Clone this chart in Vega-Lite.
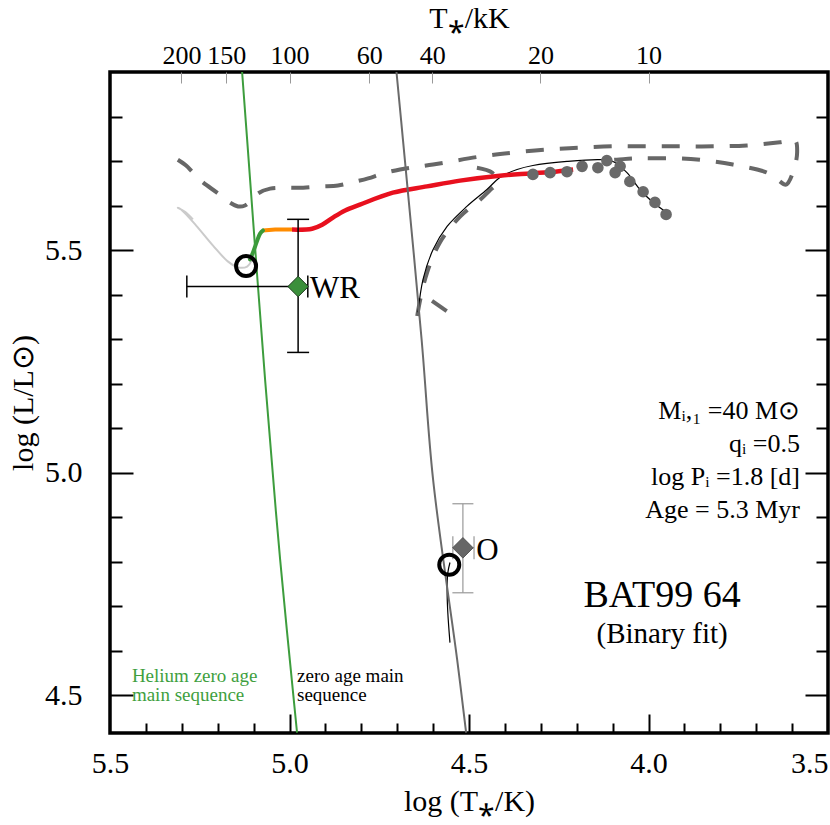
{
  "$schema": "https://vega.github.io/schema/vega-lite/v6.json",
  "width": 718,
  "height": 661,
  "autosize": {"type": "none"},
  "padding": {"left": 110, "top": 72, "right": 2, "bottom": 92},
  "background": "white",
  "config": {
    "font": "Liberation Serif",
    "view": {"stroke": "black", "strokeWidth": 3.5},
    "text": {"font": "Liberation Serif"},
    "axis": {"grid": false, "domain": false, "labelFont": "Liberation Serif", "titleFont": "Liberation Serif", "labelColor": "black", "titleColor": "black", "tickColor": "black", "titleFontWeight": "normal", "labelFontSize": 30, "titleFontSize": 30, "tickWidth": 2, "labelFlush": false, "labelOverlap": false}
  },
  "datasets": {
    "dashed": [
      {"seg": 1, "ord": 1, "T": 5.311, "L": 5.703}, {"seg": 1, "ord": 2, "T": 5.288, "L": 5.690}, {"seg": 1, "ord": 3, "T": 5.269, "L": 5.674}, {"seg": 1, "ord": 4, "T": 5.241, "L": 5.652}, {"seg": 1, "ord": 5, "T": 5.202, "L": 5.629}, {"seg": 1, "ord": 6, "T": 5.171, "L": 5.609}, {"seg": 1, "ord": 7, "T": 5.143, "L": 5.598}, {"seg": 1, "ord": 8, "T": 5.124, "L": 5.600}, {"seg": 1, "ord": 9, "T": 5.104, "L": 5.613}, {"seg": 1, "ord": 10, "T": 5.088, "L": 5.627}, {"seg": 1, "ord": 11, "T": 5.054, "L": 5.638}, {"seg": 1, "ord": 12, "T": 5.013, "L": 5.640}, {"seg": 1, "ord": 13, "T": 4.962, "L": 5.640}, {"seg": 1, "ord": 14, "T": 4.915, "L": 5.643}, {"seg": 1, "ord": 15, "T": 4.865, "L": 5.645}, {"seg": 1, "ord": 16, "T": 4.826, "L": 5.652}, {"seg": 1, "ord": 17, "T": 4.781, "L": 5.661}, {"seg": 1, "ord": 18, "T": 4.740, "L": 5.672}, {"seg": 1, "ord": 19, "T": 4.692, "L": 5.681}, {"seg": 1, "ord": 20, "T": 4.600, "L": 5.692}, {"seg": 1, "ord": 21, "T": 4.469, "L": 5.710}, {"seg": 1, "ord": 22, "T": 4.377, "L": 5.719}, {"seg": 1, "ord": 23, "T": 4.283, "L": 5.726}, {"seg": 1, "ord": 24, "T": 4.191, "L": 5.730}, {"seg": 1, "ord": 25, "T": 4.099, "L": 5.733}, {"seg": 1, "ord": 26, "T": 4.004, "L": 5.733}, {"seg": 1, "ord": 27, "T": 3.912, "L": 5.733}, {"seg": 1, "ord": 28, "T": 3.820, "L": 5.733}, {"seg": 1, "ord": 29, "T": 3.726, "L": 5.735}, {"seg": 1, "ord": 30, "T": 3.634, "L": 5.742}, {"seg": 1, "ord": 31, "T": 3.592, "L": 5.746}, {"seg": 1, "ord": 32, "T": 3.586, "L": 5.719}, {"seg": 1, "ord": 33, "T": 3.597, "L": 5.676}, {"seg": 1, "ord": 34, "T": 3.617, "L": 5.647}, {"seg": 1, "ord": 35, "T": 3.640, "L": 5.658}, {"seg": 1, "ord": 36, "T": 3.670, "L": 5.674}, {"seg": 1, "ord": 37, "T": 3.765, "L": 5.692}, {"seg": 1, "ord": 38, "T": 3.837, "L": 5.701}, {"seg": 1, "ord": 39, "T": 3.912, "L": 5.706}, {"seg": 1, "ord": 40, "T": 3.987, "L": 5.706}, {"seg": 1, "ord": 41, "T": 4.043, "L": 5.706}, {"seg": 1, "ord": 42, "T": 4.088, "L": 5.703}, {"seg": 1, "ord": 43, "T": 4.130, "L": 5.701},
      {"seg": 2, "ord": 1, "T": 4.478, "L": 5.685}, {"seg": 2, "ord": 2, "T": 4.436, "L": 5.674}, {"seg": 2, "ord": 3, "T": 4.422, "L": 5.652}, {"seg": 2, "ord": 4, "T": 4.442, "L": 5.634}, {"seg": 2, "ord": 5, "T": 4.469, "L": 5.613}, {"seg": 2, "ord": 6, "T": 4.525, "L": 5.575}, {"seg": 2, "ord": 7, "T": 4.581, "L": 5.517}, {"seg": 2, "ord": 8, "T": 4.617, "L": 5.449}, {"seg": 2, "ord": 9, "T": 4.636, "L": 5.388}, {"seg": 2, "ord": 10, "T": 4.645, "L": 5.348},
      {"seg": 3, "ord": 1, "T": 4.603, "L": 5.386}, {"seg": 3, "ord": 2, "T": 4.561, "L": 5.362}
    ],
    "black": [
      {"seg": 1, "ord": 1, "T": 4.642, "L": 5.360}, {"seg": 1, "ord": 2, "T": 4.628, "L": 5.434}, {"seg": 1, "ord": 3, "T": 4.600, "L": 5.501}, {"seg": 1, "ord": 4, "T": 4.561, "L": 5.553}, {"seg": 1, "ord": 5, "T": 4.506, "L": 5.598}, {"seg": 1, "ord": 6, "T": 4.450, "L": 5.636}, {"seg": 1, "ord": 7, "T": 4.414, "L": 5.663}, {"seg": 1, "ord": 8, "T": 4.366, "L": 5.681}, {"seg": 1, "ord": 9, "T": 4.322, "L": 5.690}, {"seg": 1, "ord": 10, "T": 4.227, "L": 5.699}, {"seg": 1, "ord": 11, "T": 4.135, "L": 5.703}, {"seg": 1, "ord": 12, "T": 4.099, "L": 5.699}, {"seg": 1, "ord": 13, "T": 4.060, "L": 5.674}, {"seg": 1, "ord": 14, "T": 4.024, "L": 5.636}, {"seg": 1, "ord": 15, "T": 3.987, "L": 5.607}, {"seg": 1, "ord": 16, "T": 3.948, "L": 5.584},
      {"seg": 2, "ord": 1, "T": 4.553, "L": 4.618}, {"seg": 2, "ord": 2, "T": 4.559, "L": 4.685}, {"seg": 2, "ord": 3, "T": 4.561, "L": 4.737}, {"seg": 2, "ord": 4, "T": 4.559, "L": 4.775}, {"seg": 2, "ord": 5, "T": 4.553, "L": 4.798}
    ],
    "lgray": [
      {"ord": 1, "T": 5.104, "L": 5.479}, {"ord": 2, "T": 5.118, "L": 5.463}, {"ord": 3, "T": 5.143, "L": 5.461}, {"ord": 4, "T": 5.171, "L": 5.474}, {"ord": 5, "T": 5.213, "L": 5.510}, {"ord": 6, "T": 5.260, "L": 5.555}, {"ord": 7, "T": 5.302, "L": 5.591}, {"ord": 8, "T": 5.311, "L": 5.595}, {"ord": 9, "T": 5.291, "L": 5.586}, {"ord": 10, "T": 5.269, "L": 5.569}
    ],
    "greenseg": [
      {"ord": 1, "T": 5.074, "L": 5.544}, {"ord": 2, "T": 5.082, "L": 5.537}, {"ord": 3, "T": 5.091, "L": 5.519}, {"ord": 4, "T": 5.102, "L": 5.494}, {"ord": 5, "T": 5.110, "L": 5.479}
    ],
    "orange": [
      {"ord": 1, "T": 5.074, "L": 5.544}, {"ord": 2, "T": 5.040, "L": 5.546}, {"ord": 3, "T": 4.993, "L": 5.546}
    ],
    "red": [
      {"ord": 1, "T": 4.993, "L": 5.546}, {"ord": 2, "T": 4.937, "L": 5.548}, {"ord": 3, "T": 4.909, "L": 5.557}, {"ord": 4, "T": 4.879, "L": 5.573}, {"ord": 5, "T": 4.845, "L": 5.589}, {"ord": 6, "T": 4.804, "L": 5.602}, {"ord": 7, "T": 4.712, "L": 5.629}, {"ord": 8, "T": 4.617, "L": 5.643}, {"ord": 9, "T": 4.525, "L": 5.656}, {"ord": 10, "T": 4.414, "L": 5.667}, {"ord": 11, "T": 4.330, "L": 5.672}, {"ord": 12, "T": 4.260, "L": 5.676}, {"ord": 13, "T": 4.210, "L": 5.681}
    ],
    "dots": [
      {"T": 4.322, "L": 5.670}, {"T": 4.274, "L": 5.674}, {"T": 4.227, "L": 5.676}, {"T": 4.185, "L": 5.688}, {"T": 4.141, "L": 5.685}, {"T": 4.116, "L": 5.701}, {"T": 4.079, "L": 5.688}, {"T": 4.093, "L": 5.674}, {"T": 4.052, "L": 5.654}, {"T": 4.015, "L": 5.631}, {"T": 3.982, "L": 5.607}, {"T": 3.951, "L": 5.580}
    ],
    "zams": [
      {"ord": 1, "T": 4.702, "L": 5.9}, {"ord": 2, "T": 4.684, "L": 5.748}, {"ord": 3, "T": 4.632, "L": 5.299}, {"ord": 4, "T": 4.600, "L": 4.984}, {"ord": 5, "T": 4.533, "L": 4.580}, {"ord": 6, "T": 4.508, "L": 4.416}
    ],
    "hezams": [
      {"ord": 1, "T": 5.132, "L": 5.9}, {"ord": 2, "T": 5.118, "L": 5.748}, {"ord": 3, "T": 5.068, "L": 5.209}, {"ord": 4, "T": 5.026, "L": 4.804}, {"ord": 5, "T": 4.979, "L": 4.416}
    ],
    "wr": [{"T": 4.976, "L": 5.418, "Tlo": 5.286, "Thi": 4.949, "Llo": 5.270, "Lhi": 5.569}],
    "wrcapy": [{"T": 4.976, "L": 5.270}, {"T": 4.976, "L": 5.569}],
    "wrcapx": [{"T": 5.286, "L": 5.418}, {"T": 4.949, "L": 5.418}],
    "ostar": [{"T": 4.517, "L": 4.831, "Tlo": 4.545, "Thi": 4.486, "Llo": 4.730, "Lhi": 4.930}],
    "ocapy": [{"T": 4.517, "L": 4.730}, {"T": 4.517, "L": 4.930}],
    "ocapx": [{"T": 4.545, "L": 4.831}, {"T": 4.486, "L": 4.831}],
    "circles": [{"T": 5.121, "L": 5.464}, {"T": 4.555, "L": 4.793}]
  },
  "resolve": {"axis": {"x": "independent", "y": "independent"}},
  "layer": [
    {
      "data": {"name": "dashed"},
      "mark": {"type": "line", "color": "#676767", "strokeWidth": 4, "strokeDash": [18, 16], "interpolate": "catmull-rom"},
      "encoding": {
        "x": {"field": "T", "type": "quantitative", "scale": {"domain": [3.5, 5.5], "reverse": true, "nice": false, "zero": false}, "axis": {"orient": "bottom", "values": [5.4, 5.3, 5.2, 5.1, 4.9, 4.8, 4.7, 4.6, 4.4, 4.3, 4.2, 4.1, 3.9, 3.8, 3.7, 3.6], "labels": false, "tickSize": -10, "title": null}},
        "y": {"field": "L", "type": "quantitative", "scale": {"domain": [4.415, 5.9], "nice": false, "zero": false}, "axis": {"orient": "left", "values": [4.6, 4.7, 4.8, 4.9, 5.1, 5.2, 5.3, 5.4, 5.6, 5.7, 5.8], "labels": false, "tickSize": -12, "title": null}},
        "detail": {"field": "seg", "type": "nominal"},
        "order": {"field": "ord", "type": "quantitative"}
      }
    },
    {
      "data": {"name": "black"},
      "mark": {"type": "line", "color": "black", "strokeWidth": 1.2, "interpolate": "catmull-rom"},
      "encoding": {
        "x": {"field": "T", "type": "quantitative", "scale": {"domain": [3.5, 5.5], "reverse": true, "nice": false, "zero": false}, "axis": {"orient": "top", "values": [5.30103, 5.17609, 5.0, 4.77815, 4.60206, 4.30103, 4.0], "labelExpr": "format(pow(10, datum.value) / 1000, '.0f')", "ticks": false, "labelPadding": 4, "labelFontSize": 26, "title": "T⁎/kK", "titlePadding": 9}},
        "y": {"field": "L", "type": "quantitative", "scale": {"domain": [4.415, 5.9], "nice": false, "zero": false}, "axis": {"orient": "right", "values": [4.5, 5.0, 5.5], "labels": false, "tickSize": -23, "title": null}},
        "detail": {"field": "seg", "type": "nominal"},
        "order": {"field": "ord", "type": "quantitative"}
      }
    },
    {
      "data": {"name": "lgray"},
      "mark": {"type": "line", "color": "#cbcbcb", "strokeWidth": 2, "interpolate": "catmull-rom"},
      "encoding": {
        "x": {"field": "T", "type": "quantitative", "scale": {"domain": [3.5, 5.5], "reverse": true, "nice": false, "zero": false}, "axis": null},
        "y": {"field": "L", "type": "quantitative", "scale": {"domain": [4.415, 5.9], "nice": false, "zero": false}, "axis": null},
        "order": {"field": "ord", "type": "quantitative"}
      }
    },
    {
      "data": {"name": "red"},
      "mark": {"type": "line", "color": "#e8101e", "strokeWidth": 4.5, "interpolate": "catmull-rom"},
      "encoding": {
        "x": {"field": "T", "type": "quantitative", "scale": {"domain": [3.5, 5.5], "reverse": true, "nice": false, "zero": false}, "axis": {"orient": "top", "values": [5.30103, 5.17609, 5.0, 4.77815, 4.60206, 4.30103, 4.0], "labels": false, "tickSize": -11, "tickColor": "#999999", "tickWidth": 1, "title": null}},
        "y": {"field": "L", "type": "quantitative", "scale": {"domain": [4.415, 5.9], "nice": false, "zero": false}, "axis": {"orient": "right", "values": [4.6, 4.7, 4.8, 4.9, 5.1, 5.2, 5.3, 5.4, 5.6, 5.7, 5.8], "labels": false, "tickSize": -12, "title": null}},
        "order": {"field": "ord", "type": "quantitative"}
      }
    },
    {
      "data": {"name": "orange"},
      "mark": {"type": "line", "color": "#ff8c00", "strokeWidth": 4},
      "encoding": {
        "x": {"field": "T", "type": "quantitative", "scale": {"domain": [3.5, 5.5], "reverse": true, "nice": false, "zero": false}, "axis": null},
        "y": {"field": "L", "type": "quantitative", "scale": {"domain": [4.415, 5.9], "nice": false, "zero": false}, "axis": null},
        "order": {"field": "ord", "type": "quantitative"}
      }
    },
    {
      "data": {"name": "greenseg"},
      "mark": {"type": "line", "color": "#3a9a3a", "strokeWidth": 4, "strokeCap": "round", "interpolate": "catmull-rom"},
      "encoding": {
        "x": {"field": "T", "type": "quantitative", "scale": {"domain": [3.5, 5.5], "reverse": true, "nice": false, "zero": false}, "axis": null},
        "y": {"field": "L", "type": "quantitative", "scale": {"domain": [4.415, 5.9], "nice": false, "zero": false}, "axis": null},
        "order": {"field": "ord", "type": "quantitative"}
      }
    },
    {
      "data": {"name": "dots"},
      "mark": {"type": "point", "shape": "circle", "filled": true, "color": "#696969", "opacity": 1, "size": 135},
      "encoding": {
        "x": {"field": "T", "type": "quantitative", "scale": {"domain": [3.5, 5.5], "reverse": true, "nice": false, "zero": false}, "axis": null},
        "y": {"field": "L", "type": "quantitative", "scale": {"domain": [4.415, 5.9], "nice": false, "zero": false}, "axis": null}
      }
    },
    {
      "data": {"name": "zams"},
      "mark": {"type": "line", "color": "#6a6a6a", "strokeWidth": 2, "interpolate": "catmull-rom"},
      "encoding": {
        "x": {"field": "T", "type": "quantitative", "scale": {"domain": [3.5, 5.5], "reverse": true, "nice": false, "zero": false}, "axis": {"orient": "bottom", "values": [5.5, 5.0, 4.5, 4.0, 3.5], "format": ".1f", "ticks": false, "labelPadding": 15, "labelAlign": {"condition": {"test": "datum.value < 3.6", "value": "right"}, "value": "center"}, "title": "log (T⁎/K)", "titlePadding": 8}},
        "y": {"field": "L", "type": "quantitative", "scale": {"domain": [4.415, 5.9], "nice": false, "zero": false}, "axis": {"orient": "left", "values": [4.5, 5.0, 5.5], "format": ".1f", "ticks": false, "labelPadding": 28, "title": "log (L/L⊙)", "titlePadding": 6}},
        "order": {"field": "ord", "type": "quantitative"}
      }
    },
    {
      "data": {"name": "hezams"},
      "mark": {"type": "line", "color": "#3d9d3d", "strokeWidth": 2, "interpolate": "catmull-rom"},
      "encoding": {
        "x": {"field": "T", "type": "quantitative", "scale": {"domain": [3.5, 5.5], "reverse": true, "nice": false, "zero": false}, "axis": {"orient": "bottom", "values": [5.0, 4.5, 4.0], "labels": false, "tickSize": -19, "title": null}},
        "y": {"field": "L", "type": "quantitative", "scale": {"domain": [4.415, 5.9], "nice": false, "zero": false}, "axis": {"orient": "left", "values": [4.5, 5.0, 5.5], "labels": false, "tickSize": -23, "title": null}},
        "order": {"field": "ord", "type": "quantitative"}
      }
    },
    {
      "data": {"name": "wr"},
      "mark": {"type": "rule", "color": "black", "strokeWidth": 1.5},
      "encoding": {
        "x": {"field": "Tlo", "type": "quantitative", "scale": {"domain": [3.5, 5.5], "reverse": true, "nice": false, "zero": false}, "axis": null},
        "x2": {"field": "Thi"},
        "y": {"field": "L", "type": "quantitative", "scale": {"domain": [4.415, 5.9], "nice": false, "zero": false}, "axis": null}
      }
    },
    {
      "data": {"name": "wr"},
      "mark": {"type": "rule", "color": "black", "strokeWidth": 1.5},
      "encoding": {
        "x": {"field": "T", "type": "quantitative", "scale": {"domain": [3.5, 5.5], "reverse": true, "nice": false, "zero": false}, "axis": null},
        "y": {"field": "Llo", "type": "quantitative", "scale": {"domain": [4.415, 5.9], "nice": false, "zero": false}, "axis": null},
        "y2": {"field": "Lhi"}
      }
    },
    {
      "data": {"name": "wrcapy"},
      "mark": {"type": "tick", "orient": "horizontal", "color": "black", "size": 22, "thickness": 1.5, "opacity": 1},
      "encoding": {
        "x": {"field": "T", "type": "quantitative", "scale": {"domain": [3.5, 5.5], "reverse": true, "nice": false, "zero": false}, "axis": null},
        "y": {"field": "L", "type": "quantitative", "scale": {"domain": [4.415, 5.9], "nice": false, "zero": false}, "axis": null}
      }
    },
    {
      "data": {"name": "wrcapx"},
      "mark": {"type": "tick", "orient": "vertical", "color": "black", "size": 22, "thickness": 1.5, "opacity": 1},
      "encoding": {
        "x": {"field": "T", "type": "quantitative", "scale": {"domain": [3.5, 5.5], "reverse": true, "nice": false, "zero": false}, "axis": null},
        "y": {"field": "L", "type": "quantitative", "scale": {"domain": [4.415, 5.9], "nice": false, "zero": false}, "axis": null}
      }
    },
    {
      "data": {"name": "ostar"},
      "mark": {"type": "rule", "color": "#999999", "strokeWidth": 1.2},
      "encoding": {
        "x": {"field": "T", "type": "quantitative", "scale": {"domain": [3.5, 5.5], "reverse": true, "nice": false, "zero": false}, "axis": null},
        "y": {"field": "Llo", "type": "quantitative", "scale": {"domain": [4.415, 5.9], "nice": false, "zero": false}, "axis": null},
        "y2": {"field": "Lhi"}
      }
    },
    {
      "data": {"name": "ostar"},
      "mark": {"type": "rule", "color": "#999999", "strokeWidth": 1.2},
      "encoding": {
        "x": {"field": "Tlo", "type": "quantitative", "scale": {"domain": [3.5, 5.5], "reverse": true, "nice": false, "zero": false}, "axis": null},
        "x2": {"field": "Thi"},
        "y": {"field": "L", "type": "quantitative", "scale": {"domain": [4.415, 5.9], "nice": false, "zero": false}, "axis": null}
      }
    },
    {
      "data": {"name": "ocapy"},
      "mark": {"type": "tick", "orient": "horizontal", "color": "#999999", "size": 21, "thickness": 1.2, "opacity": 1},
      "encoding": {
        "x": {"field": "T", "type": "quantitative", "scale": {"domain": [3.5, 5.5], "reverse": true, "nice": false, "zero": false}, "axis": null},
        "y": {"field": "L", "type": "quantitative", "scale": {"domain": [4.415, 5.9], "nice": false, "zero": false}, "axis": null}
      }
    },
    {
      "data": {"name": "ocapx"},
      "mark": {"type": "tick", "orient": "vertical", "color": "#999999", "size": 23, "thickness": 1.2, "opacity": 1},
      "encoding": {
        "x": {"field": "T", "type": "quantitative", "scale": {"domain": [3.5, 5.5], "reverse": true, "nice": false, "zero": false}, "axis": null},
        "y": {"field": "L", "type": "quantitative", "scale": {"domain": [4.415, 5.9], "nice": false, "zero": false}, "axis": null}
      }
    },
    {
      "data": {"name": "wr"},
      "mark": {"type": "point", "shape": "diamond", "filled": true, "color": "#3b8f3b", "stroke": "#1e3a1e", "strokeWidth": 1, "opacity": 1, "size": 420},
      "encoding": {
        "x": {"field": "T", "type": "quantitative", "scale": {"domain": [3.5, 5.5], "reverse": true, "nice": false, "zero": false}, "axis": null},
        "y": {"field": "L", "type": "quantitative", "scale": {"domain": [4.415, 5.9], "nice": false, "zero": false}, "axis": null}
      }
    },
    {
      "data": {"name": "ostar"},
      "mark": {"type": "point", "shape": "diamond", "filled": true, "color": "#666666", "stroke": "#555555", "strokeWidth": 1, "opacity": 1, "size": 420},
      "encoding": {
        "x": {"field": "T", "type": "quantitative", "scale": {"domain": [3.5, 5.5], "reverse": true, "nice": false, "zero": false}, "axis": null},
        "y": {"field": "L", "type": "quantitative", "scale": {"domain": [4.415, 5.9], "nice": false, "zero": false}, "axis": null}
      }
    },
    {
      "data": {"name": "circles"},
      "mark": {"type": "point", "shape": "circle", "filled": false, "stroke": "black", "strokeWidth": 4, "opacity": 1, "size": 400},
      "encoding": {
        "x": {"field": "T", "type": "quantitative", "scale": {"domain": [3.5, 5.5], "reverse": true, "nice": false, "zero": false}, "axis": null},
        "y": {"field": "L", "type": "quantitative", "scale": {"domain": [4.415, 5.9], "nice": false, "zero": false}, "axis": null}
      }
    },
    {
      "data": {"values": [{"T": 4.943, "L": 5.393, "txt": "WR"}, {"T": 4.480, "L": 4.804, "txt": "O"}]},
      "mark": {"type": "text", "align": "left", "baseline": "alphabetic", "fontSize": 31, "color": "black", "font": "Liberation Serif"},
      "encoding": {
        "x": {"field": "T", "type": "quantitative", "scale": {"domain": [3.5, 5.5], "reverse": true, "nice": false, "zero": false}, "axis": null},
        "y": {"field": "L", "type": "quantitative", "scale": {"domain": [4.415, 5.9], "nice": false, "zero": false}, "axis": null},
        "text": {"field": "txt"}
      }
    },
    {
      "data": {"values": [{"T": 3.578, "L": 5.121, "txt": "Mᵢ,₁ =40  M⊙\nqᵢ =0.5\nlog Pᵢ =1.8 [d]\nAge = 5.3 Myr"}]},
      "mark": {"type": "text", "align": "right", "baseline": "alphabetic", "fontSize": 26, "lineHeight": 33, "lineBreak": "\n", "color": "black", "font": "Liberation Serif"},
      "encoding": {
        "x": {"field": "T", "type": "quantitative", "scale": {"domain": [3.5, 5.5], "reverse": true, "nice": false, "zero": false}, "axis": null},
        "y": {"field": "L", "type": "quantitative", "scale": {"domain": [4.415, 5.9], "nice": false, "zero": false}, "axis": null},
        "text": {"field": "txt"}
      }
    },
    {
      "data": {"values": [{"T": 3.962, "L": 4.699, "txt": "BAT99 64"}]},
      "mark": {"type": "text", "align": "center", "baseline": "alphabetic", "fontSize": 38, "color": "black", "font": "Liberation Serif"},
      "encoding": {
        "x": {"field": "T", "type": "quantitative", "scale": {"domain": [3.5, 5.5], "reverse": true, "nice": false, "zero": false}, "axis": null},
        "y": {"field": "L", "type": "quantitative", "scale": {"domain": [4.415, 5.9], "nice": false, "zero": false}, "axis": null},
        "text": {"field": "txt"}
      }
    },
    {
      "data": {"values": [{"T": 3.962, "L": 4.618, "txt": "(Binary fit)"}]},
      "mark": {"type": "text", "align": "center", "baseline": "alphabetic", "fontSize": 29, "color": "black", "font": "Liberation Serif"},
      "encoding": {
        "x": {"field": "T", "type": "quantitative", "scale": {"domain": [3.5, 5.5], "reverse": true, "nice": false, "zero": false}, "axis": null},
        "y": {"field": "L", "type": "quantitative", "scale": {"domain": [4.415, 5.9], "nice": false, "zero": false}, "axis": null},
        "text": {"field": "txt"}
      }
    },
    {
      "data": {"values": [{"T": 5.439, "L": 4.530, "txt": "Helium zero age\nmain sequence"}]},
      "mark": {"type": "text", "align": "left", "baseline": "alphabetic", "fontSize": 19, "lineHeight": 19, "lineBreak": "\n", "color": "#3f9f3f", "font": "Liberation Serif"},
      "encoding": {
        "x": {"field": "T", "type": "quantitative", "scale": {"domain": [3.5, 5.5], "reverse": true, "nice": false, "zero": false}, "axis": null},
        "y": {"field": "L", "type": "quantitative", "scale": {"domain": [4.415, 5.9], "nice": false, "zero": false}, "axis": null},
        "text": {"field": "txt"}
      }
    },
    {
      "data": {"values": [{"T": 4.979, "L": 4.530, "txt": "zero age main\nsequence"}]},
      "mark": {"type": "text", "align": "left", "baseline": "alphabetic", "fontSize": 19, "lineHeight": 19, "lineBreak": "\n", "color": "black", "font": "Liberation Serif"},
      "encoding": {
        "x": {"field": "T", "type": "quantitative", "scale": {"domain": [3.5, 5.5], "reverse": true, "nice": false, "zero": false}, "axis": null},
        "y": {"field": "L", "type": "quantitative", "scale": {"domain": [4.415, 5.9], "nice": false, "zero": false}, "axis": null},
        "text": {"field": "txt"}
      }
    }
  ]
}
